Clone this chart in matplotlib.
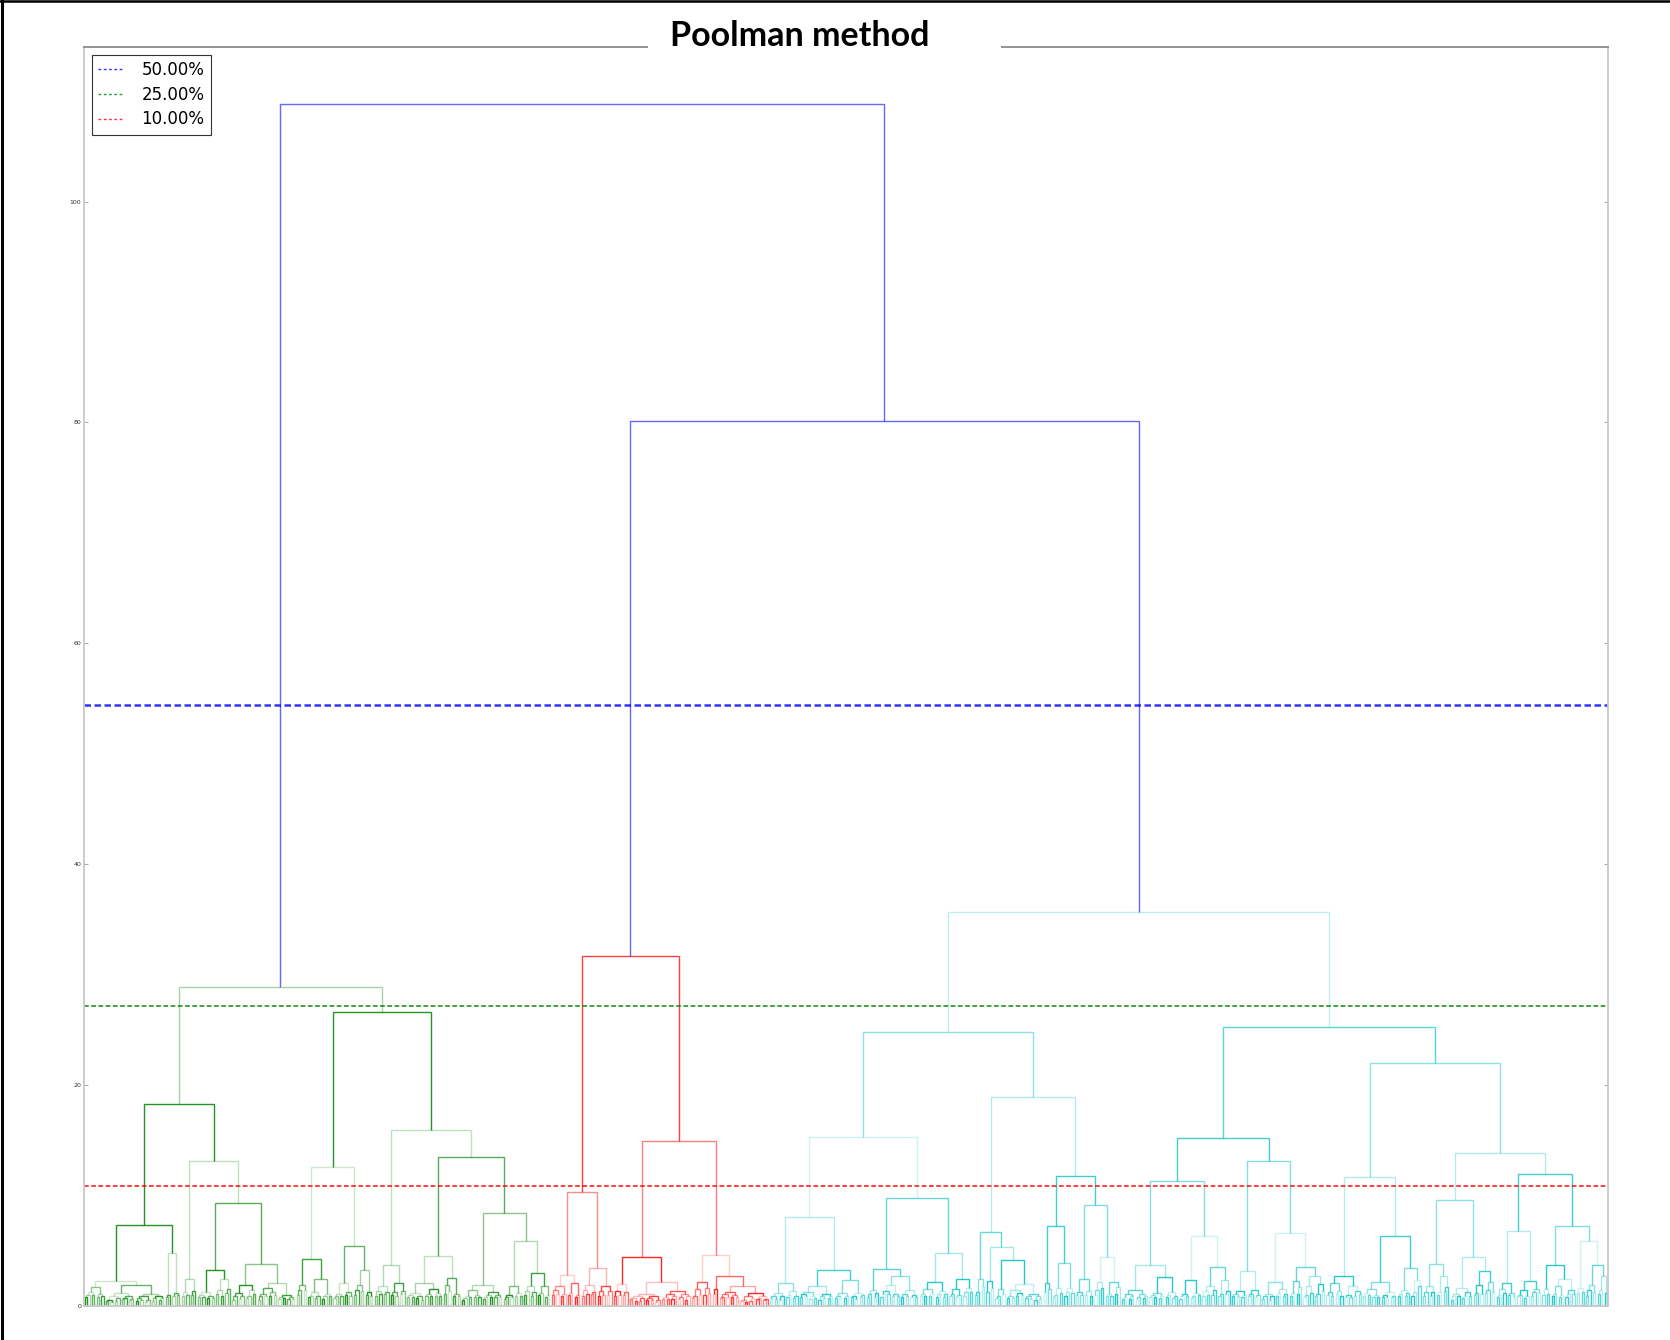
import matplotlib
matplotlib.use('Agg')
import matplotlib.pyplot as plt
from matplotlib.lines import Line2D
from matplotlib.patches import Rectangle

# ---------------- data ----------------
TITLE = "Poolman method"
ROOT_HEIGHT = 108.8      # top blue merge
INNER_HEIGHT = 80.1      # blue merge of red + cyan clusters
THRESHOLD_PCTS = [0.50, 0.25, 0.10]
THRESHOLD_LABELS = ["50.00%", "25.00%", "10.00%"]
THRESHOLD_COLORS = ["b", "g", "r"]
Y_TICKS = [0, 20, 40, 60, 80, 100]

# clusters: [height, left, right]; (n_leaves, top_height) = small terminal block of leaves
GREEN_LEFT = [18.3,
    [7.29, [2.3, (9, 1.75), (26, 1.9)], [4.78, (3, 1.0), (4, 1.2)]],
    [13.15, (7, 2.4), [9.34, (15, 3.23), [3.81, (11, 1.9), (17, 2.1)]]]]
GREEN_RIGHT = [26.6,
    [12.6, [4.23, (5, 1.9), (11, 2.4)], [5.44, (9, 2.05), (9, 3.3)]],
    [15.93,
        [3.69, (7, 1.8), (7, 2.1)],
        [13.48, [4.57, (16, 2.1), (8, 2.5)],
                [8.44, (18, 1.9), [5.93, (9, 1.8), (12, 3.0)]]]]]
GREEN_TREE = [28.9, GREEN_LEFT, GREEN_RIGHT]

RED_LEFT = [10.28, (13, 2.84), (14, 3.45)]
RED_RIGHT = [14.94,
    [4.41, (7, 1.97), (27, 2.18)],
    [4.66, (9, 2.18), [2.69, (3, 1.5), [1.8, (9, 1.3), (13, 1.15)]]]]
RED_TREE = [31.7, RED_LEFT, RED_RIGHT]

CYAN_A = [15.27,
    [8.04, (13, 2.12), [3.27, (15, 1.84), (14, 2.33)]],
    [9.77, [3.33, (6, 1.45), (17, 2.75)], [4.78, (13, 2.15), (11, 2.42)]]]
CYAN_B = [18.9,
    [6.74, (5, 2.48), [5.38, (4, 2.3), [4.14, (5, 1.54), (16, 1.97)]]],
    [11.76,
        [7.2, (4, 2.1), [3.93, (5, 1.6), (5, 1.6)]],
        [9.16, (8, 2.48), [4.44, (5, 2.2), (7, 2.2)]]]]
CYAN_C = [15.2,
    [11.3, [3.75, (12, 1.45), (13, 2.6)], [6.32, (10, 2.33), (13, 3.57)]],
    [13.12, (13, 3.14), [6.59, (12, 2.2), [3.54, (6, 2.3), (10, 2.75)]]]]
CYAN_D = [22.0,
    [11.7, (16, 2.72), [6.35, (15, 2.2), (11, 3.42)]],
    [13.85,
        [9.58, (12, 3.78), [4.41, (10, 1.66), (10, 3.2)]],
        [11.94,
            [6.77, (9, 2.1), (11, 2.3)],
            [7.2, [3.7, (4, 1.5), (11, 2.4)], [5.87, (4, 1.6), (10, 3.7)]]]]]
CYAN_TREE = [35.7, [24.8, CYAN_A, CYAN_B], [25.3, CYAN_C, CYAN_D]]

# small merges inside terminal blocks: fraction of the way from floor to parent height
FUZZ_FLOOR = 0.95
FUZZ_FRACTIONS = [0.55, 0.72, 0.40, 0.63, 0.30, 0.47, 0.68, 0.35, 0.58, 0.20,
                  0.50, 0.42, 0.66, 0.25, 0.60]

# ---------------- style ----------------
ALPHA_CYCLE = [0.85, 0.35, 0.6, 0.2, 0.5, 0.75, 0.3, 0.45, 0.65, 0.25]
CLUSTER_COLORS = {"green": "#008000", "red": "#ff0000", "cyan": "#00bfbf"}
LINK_BLUE = "#0000ff"

fig = plt.figure(figsize=(16.7, 13.4), dpi=100)
W, H = 1670, 1340
ax = fig.add_axes([84 / W, 1 - 1306 / H, (1608 - 84) / W, (1306 - 47) / H])

state = {"fuzz": 0, "alpha": 0}


def next_fuzz():
    v = FUZZ_FRACTIONS[state["fuzz"] % len(FUZZ_FRACTIONS)]
    state["fuzz"] += 1
    return v


def next_alpha():
    v = ALPHA_CYCLE[state["alpha"] % len(ALPHA_CYCLE)]
    state["alpha"] += 1
    return v


def link(xl, hl, xr, hr, h, color, alpha, lw=1.0):
    ax.plot([xl, xl, xr, xr], [hl, h, h, hr], color=color, alpha=alpha,
            lw=lw, solid_capstyle='butt', solid_joinstyle='miter')


def block(k, h, start, color):
    if k == 1:
        return start + 0.5, 0.0, 1
    a = (k + 1) // 2
    b = k - a
    kids = []
    pos = start
    for m in (a, b):
        if m == 1:
            kids.append((pos + 0.5, 0.0, 1))
        else:
            if h > FUZZ_FLOOR:
                ch = FUZZ_FLOOR * 0.85 + next_fuzz() * (h - FUZZ_FLOOR)
            else:
                ch = h * (0.5 + 0.5 * next_fuzz())
            kids.append(block(m, ch, pos, color))
        pos += m
    (xl, hl, _), (xr, hr, _) = kids
    link(xl, hl, xr, hr, h, color, next_alpha())
    return (xl + xr) / 2, h, k


def draw(node, start, color):
    if isinstance(node, tuple):
        return block(node[0], node[1], start, color)
    h, left, right = node
    xl, hl, n1 = draw(left, start, color)
    xr, hr, n2 = draw(right, start + n1, color)
    link(xl, hl, xr, hr, h, color, next_alpha())
    return (xl + xr) / 2, h, n1 + n2


xg, hg, ng = draw(GREEN_TREE, 0, CLUSTER_COLORS["green"])
xr_, hr_, nr = draw(RED_TREE, ng, CLUSTER_COLORS["red"])
xc, hc, nc = draw(CYAN_TREE, ng + nr, CLUSTER_COLORS["cyan"])
N = ng + nr + nc

xi = (xr_ + xc) / 2
link(xr_, hr_, xc, hc, INNER_HEIGHT, LINK_BLUE, 0.6)
link(xg, hg, xi, INNER_HEIGHT, ROOT_HEIGHT, LINK_BLUE, 0.6)

handles = []
for p, lab, c in zip(THRESHOLD_PCTS, THRESHOLD_LABELS, THRESHOLD_COLORS):
    lw = 1.8 if c == "b" else 1.3
    ax.axhline(p * ROOT_HEIGHT, color=c, ls=(0, (2.6, 1.4)), lw=lw, alpha=0.8)
    handles.append(Line2D([], [], color=c, ls=(0, (2.0, 1.8)), lw=1.0, alpha=0.8,
                          label=lab))

ax.set_xlim(0, N)
ax.set_ylim(0, 114.0)
ax.set_xticks([])
ax.set_yticks(Y_TICKS)
ax.tick_params(axis='y', direction='in', length=3, width=0.6, color='#999999',
               labelsize=4.5, labelcolor='#333333', right=True, pad=2)
for side, sp in ax.spines.items():
    sp.set_linewidth(1.3)
    sp.set_color('#c8c8c8')
ax.spines['top'].set_color('#8a8a8a')

leg = ax.legend(handles=handles, loc='upper left', fontsize=12, frameon=True,
                fancybox=False, edgecolor='#333333', framealpha=1,
                borderaxespad=0.45, handlelength=1.5, handletextpad=1.1,
                labelspacing=0.4, borderpad=0.4)
leg.get_frame().set_linewidth(0.8)

# title sitting on the top spine
fig.patches.append(Rectangle((648 / W, 1 - 62 / H), (1001 - 648) / W, 30 / H,
                             transform=fig.transFigure, facecolor='white',
                             edgecolor='none', zorder=2))
fig.text(800 / W, 1 - 36 / H, TITLE, ha='center', va='center', fontsize=24.5,
         fontweight='bold', family=['Lato', 'DejaVu Sans'], zorder=3)

# outer frame on left and top edges
fig.lines.append(Line2D([1.5 / W, 1.5 / W], [0, 1], transform=fig.transFigure,
                        color='black', lw=2.2))
fig.lines.append(Line2D([0, 1], [1 - 1.2 / H, 1 - 1.2 / H], transform=fig.transFigure,
                        color='black', lw=1.8))

fig.savefig('out.png', dpi=100)
